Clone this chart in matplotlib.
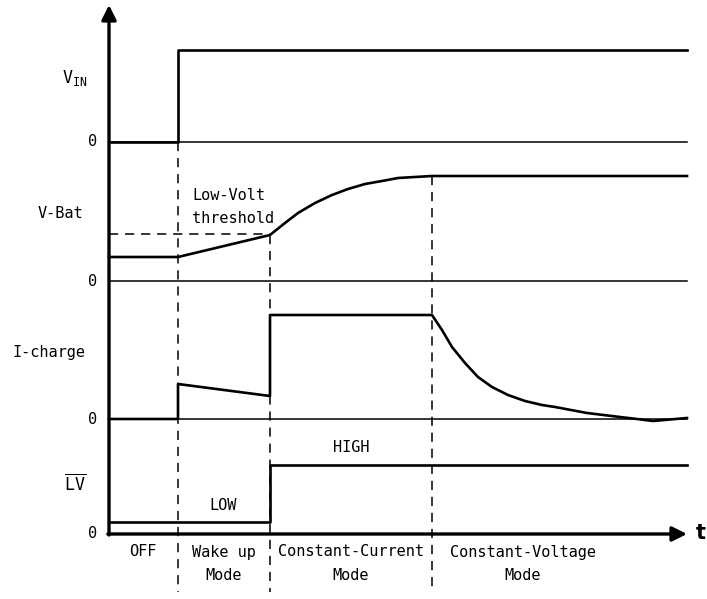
import numpy as np
import matplotlib.pyplot as plt

plt.rcParams['font.family'] = ['DejaVu Sans Mono']

# time axis: 1 unit = 100 px, mode boundaries
t_on = 0.69     # VIN applied, wake up starts
t_lv = 1.61     # low-volt threshold reached
t_cv = 3.23     # constant-voltage starts
t_end = 5.78

# channel baselines (stacked)
base_lv = 0.0
base_ich = 1.15
base_vbat = 2.53
base_vin = 3.92

vin_t = [0, t_on, t_on, t_end]
vin_v = [0, 0, 0.92, 0.92]

vbat_t = [0, t_on, t_lv, 1.76, 1.89, 2.06, 2.23, 2.39, 2.56, 2.73, 2.89, 3.06, t_cv, t_end]
vbat_v = [0.24, 0.24, 0.46, 0.58, 0.68, 0.78, 0.86, 0.92, 0.97, 1.00, 1.03, 1.04, 1.05, 1.05]
vbat_thresh = 0.46

ich_t = [0, t_on, t_on, t_lv, t_lv, t_cv, 3.33, 3.43, 3.56, 3.69, 3.83, 3.99, 4.16,
         4.33, 4.46, 4.78, 5.11, 5.28, 5.44, t_end]
ich_v = [0, 0, 0.35, 0.23, 1.04, 1.04, 0.89, 0.72, 0.56, 0.42, 0.32, 0.24, 0.18,
         0.14, 0.12, 0.06, 0.02, 0.0, -0.02, 0.01]

lv_t = [0, t_lv, t_lv, t_end]
lv_v = [0.12, 0.12, 0.69, 0.69]

mode_labels = [("OFF", ""), ("Wake up", "Mode"),
               ("Constant-Current", "Mode"), ("Constant-Voltage", "Mode")]
mode_centers = [0.34, 1.15, 2.42, 4.14]

fig = plt.figure(figsize=(7.07, 5.99), dpi=100)
ax = fig.add_axes([0, 0, 1, 1])
ax.set_xlim(-1.09, 5.98)
ax.set_ylim(-0.65, 5.34)
ax.axis('off')

sig = dict(color='k', lw=1.9, solid_joinstyle='round', zorder=3)
thin = dict(color='k', lw=1.1, zorder=2)
dash = dict(color='k', lw=1.1, dashes=(6, 4.5), zorder=1)

# zero lines
for b in (base_vin, base_vbat, base_ich):
    ax.plot([0, t_end], [b, b], **thin)

# signals
ax.plot(vin_t, np.array(vin_v) + base_vin, **sig)
ax.plot(vbat_t, np.array(vbat_v) + base_vbat, **sig)
ax.plot(ich_t, np.array(ich_v) + base_ich, **sig)
ax.plot(lv_t, np.array(lv_v) + base_lv, **sig)

# dashed guides
ybot = -0.58
ax.plot([t_on, t_on], [base_vin, ybot], **dash)
ax.plot([t_lv, t_lv], [base_vbat + vbat_thresh, ybot], **dash)
ax.plot([t_cv, t_cv], [base_vbat + vbat_v[-1], ybot], **dash)
ax.plot([0, t_lv], [base_vbat + vbat_thresh + 0.01] * 2, **dash)

# axes with arrows
ax.annotate('', xy=(0, 5.29), xytext=(0, -0.01),
            arrowprops=dict(arrowstyle='-|>', lw=2.4, color='k',
                            mutation_scale=22, shrinkA=0, shrinkB=0), zorder=4)
ax.annotate('', xy=(5.78, 0), xytext=(-0.012, 0),
            arrowprops=dict(arrowstyle='-|>', lw=2.4, color='k',
                            mutation_scale=22, shrinkA=0, shrinkB=0), zorder=4)

fs = 11
ax.text(5.92, 0.01, 't', fontsize=15, fontweight='bold', ha='center', va='center',
        family='DejaVu Sans')

# channel labels
ax.text(-0.34, base_vin + 0.64, r'$\mathregular{V_{IN}}$', fontsize=fs + 1, ha='center', va='center')
ax.text(-0.49, base_vbat + 0.68, 'V-Bat', fontsize=fs, ha='center', va='center')
ax.text(-0.60, base_ich + 0.67, 'I-charge', fontsize=fs, ha='center', va='center')
ax.text(-0.34, base_lv + 0.50, r'$\overline{\mathregular{LV}}$', fontsize=fs + 1, ha='center', va='center')
for b in (base_vin, base_vbat, base_ich, base_lv):
    ax.text(-0.12, b, '0', fontsize=fs, ha='right', va='center')

ax.text(0.83, base_vbat + 0.86, 'Low-Volt', fontsize=fs, ha='left', va='center')
ax.text(0.83, base_vbat + 0.63, 'threshold', fontsize=fs, ha='left', va='center')
ax.text(2.42, 0.87, 'HIGH', fontsize=fs, ha='center', va='center')
ax.text(1.14, 0.29, 'LOW', fontsize=fs, ha='center', va='center')

for (l1, l2), c in zip(mode_labels, mode_centers):
    ax.text(c, -0.18, l1, fontsize=fs, ha='center', va='center')
    if l2:
        ax.text(c, -0.41, l2, fontsize=fs, ha='center', va='center')

fig.savefig('out.png', dpi=100)
